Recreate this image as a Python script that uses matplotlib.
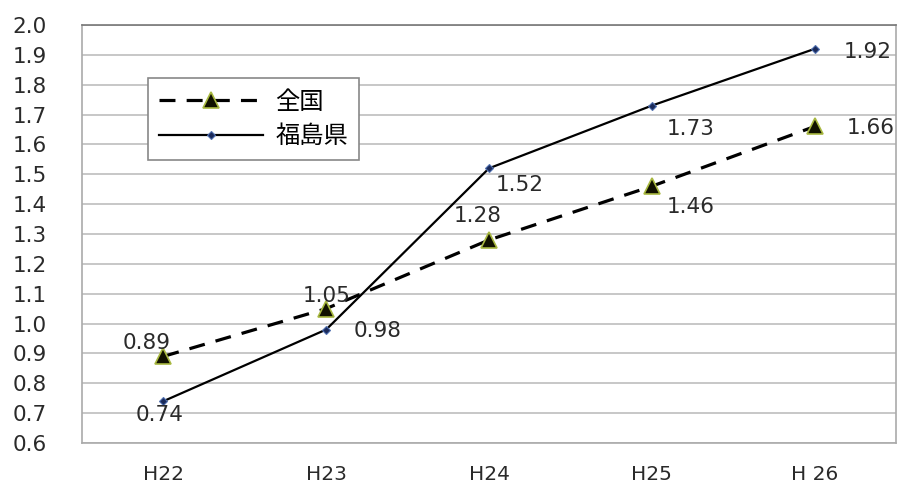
import numpy as np
from matplotlib import pyplot as plt

plt.rcParams['font.family'] = ['DejaVu Sans', 'Noto Sans CJK JP']

years = ['H22', 'H23', 'H24', 'H25', 'H 26']
zenkoku = [0.89, 1.05, 1.28, 1.46, 1.66]
fukushima = [0.74, 0.98, 1.52, 1.73, 1.92]

# label offsets (points) for each data label
off_z = [(-12, 10), (0, 9), (-8, 17), (28, -15), (40, -1)]
off_f = [(-3, -10), (37, -1), (22, -12), (28, -17), (38, -2)]

fig = plt.figure(figsize=(9.01, 4.86), dpi=100)
ax = fig.add_axes([0.091, 0.0885, 0.9035, 0.8601])

x = np.arange(len(years))
ax.plot(x, zenkoku, color='black', lw=2.3, ls=(0, (5, 3.5)),
        marker='^', ms=11, mfc='#111100', mec='#a8b840', mew=1.2, label='全国')
ax.plot(x, fukushima, color='black', lw=1.6,
        marker='D', ms=4.5, mfc='#1a2a5a', mec='#5070b0', mew=0.8, label='福島県')

for i in range(len(x)):
    ax.annotate(f'{zenkoku[i]:.2f}', (x[i], zenkoku[i]), xytext=off_z[i],
                textcoords='offset points', ha='center', va='center',
                fontsize=15.5, color='#2a2a2a')
    ax.annotate(f'{fukushima[i]:.2f}', (x[i], fukushima[i]), xytext=off_f[i],
                textcoords='offset points', ha='center', va='center',
                fontsize=15.5, color='#2a2a2a')

ax.set_xlim(-0.5, 4.5)
ax.set_ylim(0.6, 2.0)
ax.set_yticks(np.arange(0.6, 2.01, 0.1))
ax.set_yticklabels([f'{v:.1f}' for v in np.arange(0.6, 2.01, 0.1)])
ax.set_xticks(x)
ax.set_xticklabels(years, fontsize=14.5)
ax.tick_params(axis='both', length=0, colors='#2a2a2a')
ax.tick_params(axis='y', pad=50, labelsize=15.5)
ax.tick_params(axis='x', pad=16)
for lbl in ax.get_yticklabels():
    lbl.set_horizontalalignment('left')
ax.yaxis.grid(True, color='#bdbdbd', lw=1.2)
ax.set_axisbelow(True)
for s in ax.spines.values():
    s.set_color('#aaaaaa')
    s.set_linewidth(1.2)
ax.spines['top'].set_color('#777777')

leg = ax.legend(loc='upper left', bbox_to_anchor=(0.081, 0.874),
                prop={'family': ['Noto Sans CJK JP'], 'size': 17.5},
                fancybox=False, edgecolor='#888888', framealpha=1,
                handlelength=4.3, borderpad=0.45, labelspacing=0.35,
                handletextpad=0.5, borderaxespad=0)
leg.get_frame().set_linewidth(1.2)

fig.savefig('out.png', dpi=100)
